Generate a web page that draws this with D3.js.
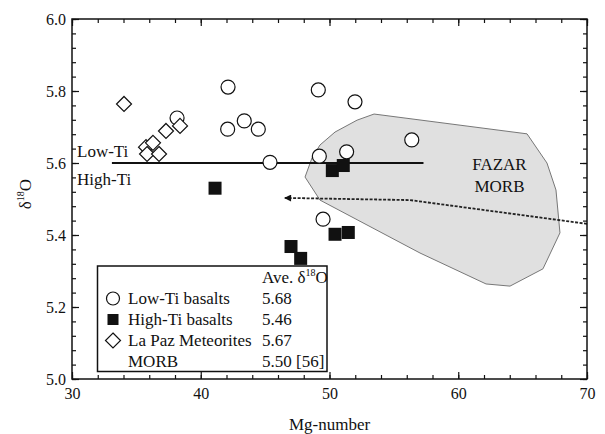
<!DOCTYPE html>
<html>
<head>
<meta charset="utf-8">
<script src="https://cdn.jsdelivr.net/npm/d3@7"></script>
<style>
  body { margin: 0; background: #fff; }
  svg text { font-family: "Liberation Serif", "DejaVu Serif", serif !important; fill: #111; }
</style>
</head>
<body>
<div id="chart"></div>
<script>
// Mg-number vs d18O
var lowTi = [
    [42.12, 5.811], [49.13, 5.803], [51.98, 5.770], [42.09, 5.694],
    [43.38, 5.717], [44.47, 5.694], [45.38, 5.602], [49.21, 5.619],
    [51.33, 5.631], [56.39, 5.664], [49.50, 5.444], [38.16, 5.725]
];
var highTi = [
    [41.11, 5.530], [50.22, 5.579], [51.07, 5.593], [50.43, 5.402],
    [51.46, 5.407], [47.01, 5.368], [47.76, 5.335]
];
var laPaz = [
    [34.04, 5.764], [35.75, 5.644], [35.83, 5.625], [36.29, 5.656],
    [36.76, 5.625], [37.30, 5.689], [38.39, 5.703]
];
// FAZAR MORB field outline
var fazar = [
    [53.46, 5.736], [65.34, 5.681], [66.89, 5.600], [67.59, 5.525],
    [67.90, 5.406], [66.58, 5.306], [64.02, 5.258], [62.16, 5.264],
    [57.03, 5.350], [49.26, 5.497], [48.10, 5.561], [48.64, 5.614],
    [49.26, 5.650], [50.43, 5.686], [52.14, 5.719]
];
// dashed arrow towards MORB average
var morbArrow = [[70, 5.431], [56.25, 5.497], [46.53, 5.503]];
// Low-Ti / High-Ti divider
var divider = [[33.1, 5.6], [57.3, 5.6]];

var xTicks = [30, 40, 50, 60, 70];
var yTicks = [5.0, 5.2, 5.4, 5.6, 5.8, 6.0];

var legendLabels = ["Low-Ti basalts", "High-Ti basalts", "La Paz Meteorites", "MORB"];
var legendValues = ["5.68", "5.46", "5.67", "5.50 [56]"];
var legendSymbols = ["circle", "square", "diamond", "none"];

var width = 605,
    height = 434;
var margin = { top: 19, right: 18, bottom: 55, left: 72 };
var plotW = width - margin.left - margin.right,
    plotH = height - margin.top - margin.bottom;

var svg = d3.select("#chart")
    .append("svg")
    .attr("width", width)
    .attr("height", height);

var x = d3.scaleLinear().domain([30, 70]).range([margin.left, margin.left + plotW]);
var y = d3.scaleLinear().domain([5.0, 6.0]).range([margin.top + plotH, margin.top]);

var line = d3.line().x(d => x(d[0])).y(d => y(d[1]));

// MORB field
svg.append("path")
    .datum(fazar)
    .attr("d", line.curve(d3.curveLinearClosed))
    .attr("fill", "#e0e0e0")
    .attr("stroke", "#777")
    .attr("stroke-width", 1);
line.curve(d3.curveLinear);

svg.append("text")
    .attr("x", x(63.2))
    .attr("y", y(5.58))
    .attr("text-anchor", "middle")
    .style("font-size", "17px")
    .text("FAZAR");
svg.append("text")
    .attr("x", x(63.2))
    .attr("y", y(5.52))
    .attr("text-anchor", "middle")
    .style("font-size", "17px")
    .text("MORB");

// arrow
svg.append("defs")
    .append("marker")
    .attr("id", "head")
    .attr("viewBox", "0 0 10 10")
    .attr("refX", 9)
    .attr("refY", 5)
    .attr("markerWidth", 11)
    .attr("markerHeight", 7)
    .attr("markerUnits", "userSpaceOnUse")
    .attr("orient", "auto")
    .append("path")
    .attr("d", "M0,0L10,5L0,10Z")
    .attr("fill", "#111");

svg.append("path")
    .datum(morbArrow)
    .attr("d", line)
    .attr("fill", "none")
    .attr("stroke", "#222")
    .attr("stroke-width", 1.8)
    .attr("stroke-dasharray", "3,1.5")
    .attr("marker-end", "url(#head)");

// divider
svg.append("path")
    .datum(divider)
    .attr("d", line)
    .attr("stroke", "#111")
    .attr("stroke-width", 2);

svg.append("text")
    .attr("x", 77)
    .attr("y", y(5.6) - 6)
    .style("font-size", "17px")
    .text("Low-Ti");
svg.append("text")
    .attr("x", 77)
    .attr("y", y(5.6) + 22)
    .style("font-size", "17px")
    .text("High-Ti");

// axes, ticks point inward
function minor(step, lo, hi) {
    return d3.range(lo, hi + step / 2, step);
}
var xMinor = minor(2, 30, 70);
var yMinor = minor(0.04, 5.0, 6.0);

function addAxis(axis, tx, ty) {
    svg.append("g")
        .attr("transform", "translate(" + tx + "," + ty + ")")
        .call(axis)
        .call(g => g.select(".domain").remove())
        .call(g => g.selectAll("line").attr("stroke", "#111").attr("stroke-width", 1.2));
}

var bottomY = margin.top + plotH,
    rightX = margin.left + plotW;

addAxis(d3.axisBottom(x).tickValues(xMinor).tickSize(-4).tickFormat(""), 0, bottomY);
addAxis(d3.axisTop(x).tickValues(xMinor).tickSize(-4).tickFormat(""), 0, margin.top);
addAxis(d3.axisLeft(y).tickValues(yMinor).tickSize(-4).tickFormat(""), margin.left, 0);
addAxis(d3.axisRight(y).tickValues(yMinor).tickSize(-4).tickFormat(""), rightX, 0);

addAxis(d3.axisBottom(x).tickValues(xTicks).tickSize(-7).tickPadding(9).tickFormat(d3.format("d")), 0, bottomY);
addAxis(d3.axisTop(x).tickValues(xTicks).tickSize(-7).tickFormat(""), 0, margin.top);
addAxis(d3.axisLeft(y).tickValues(yTicks).tickSize(-7).tickPadding(6).tickFormat(d3.format(".1f")), margin.left, 0);
addAxis(d3.axisRight(y).tickValues(yTicks).tickSize(-7).tickFormat(""), rightX, 0);

svg.selectAll("g").attr("font-family", null);
svg.selectAll(".tick text")
    .style("font-size", "16px")
    .attr("fill", "#111");

svg.append("rect")
    .attr("x", margin.left)
    .attr("y", margin.top)
    .attr("width", plotW)
    .attr("height", plotH)
    .attr("fill", "none")
    .attr("stroke", "#111")
    .attr("stroke-width", 1.5);

// axis titles
svg.append("text")
    .attr("x", x(50))
    .attr("y", 430)
    .attr("text-anchor", "middle")
    .style("font-size", "17px")
    .text("Mg-number");

var yt = svg.append("text")
    .attr("transform", "translate(31,194) rotate(-90)")
    .attr("text-anchor", "middle")
    .style("font-size", "17px");
yt.append("tspan").text("δ");
yt.append("tspan").attr("dy", -7).style("font-size", "10px").text("18");
yt.append("tspan").attr("dy", 7).text("O");

// points
svg.append("g")
    .selectAll("circle")
    .data(lowTi)
    .join("circle")
    .attr("cx", d => x(d[0]))
    .attr("cy", d => y(d[1]))
    .attr("r", 7)
    .attr("fill", "#fff")
    .attr("stroke", "#111")
    .attr("stroke-width", 1.2);

svg.append("g")
    .selectAll("path")
    .data(laPaz)
    .join("path")
    .attr("transform", d => "translate(" + x(d[0]) + "," + y(d[1]) + ")")
    .attr("d", "M0,-7.5L7.5,0L0,7.5L-7.5,0Z")
    .attr("fill", "#fff")
    .attr("stroke", "#111")
    .attr("stroke-width", 1.2);

svg.append("g")
    .selectAll("rect")
    .data(highTi)
    .join("rect")
    .attr("x", d => x(d[0]) - 6.5)
    .attr("y", d => y(d[1]) - 6.5)
    .attr("width", 13)
    .attr("height", 13)
    .attr("fill", "#111");

// legend
var lg = svg.append("g");
lg.append("rect")
    .attr("x", 97.5)
    .attr("y", 266)
    .attr("width", 229.5)
    .attr("height", 105.5)
    .attr("fill", "#fff")
    .attr("stroke", "#111")
    .attr("stroke-width", 1.5);

var hd = lg.append("text")
    .attr("x", 262)
    .attr("y", 283)
    .style("font-size", "17px");
hd.append("tspan").text("Ave. δ");
hd.append("tspan").attr("dy", -7).style("font-size", "10px").text("18");
hd.append("tspan").attr("dy", 7).text("O");

legendLabels.forEach(function (lab, i) {
    var by = 304 + i * 21;
    var cy = by - 5.5;
    if (legendSymbols[i] === "circle") {
        lg.append("circle").attr("cx", 113).attr("cy", cy).attr("r", 6.5)
            .attr("fill", "#fff").attr("stroke", "#111").attr("stroke-width", 1.2);
    } else if (legendSymbols[i] === "square") {
        lg.append("rect").attr("x", 107.5).attr("y", cy - 5.5).attr("width", 11).attr("height", 11)
            .attr("fill", "#111");
    } else if (legendSymbols[i] === "diamond") {
        lg.append("path").attr("transform", "translate(113," + cy + ")")
            .attr("d", "M0,-7.5L7.5,0L0,7.5L-7.5,0Z")
            .attr("fill", "#fff").attr("stroke", "#111").attr("stroke-width", 1.2);
    }
    lg.append("text").attr("x", 128).attr("y", by).style("font-size", "17px").text(lab);
    lg.append("text").attr("x", 262).attr("y", by).style("font-size", "17px").text(legendValues[i]);
});
</script>
</body>
</html>
